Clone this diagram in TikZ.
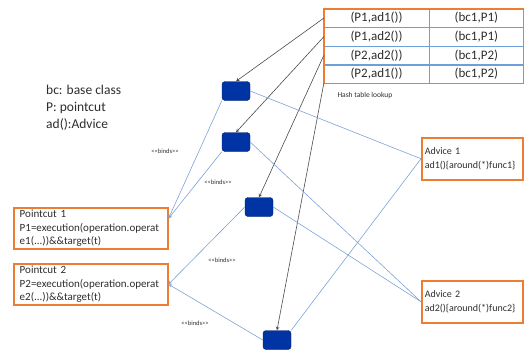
\documentclass[tikz,border=0pt]{standalone}
\usepackage{fontspec}
\setmainfont{Carlito}
\usetikzlibrary{arrows,positioning,calc}

\definecolor{boxorange}{RGB}{237,125,49}
\definecolor{joinfill}{RGB}{0,52,165}
\definecolor{joinedge}{RGB}{0,30,100}
\definecolor{bindline}{RGB}{125,162,215}
\definecolor{celline}{RGB}{110,160,215}
\definecolor{lookline}{RGB}{75,75,75}
\definecolor{textgray}{RGB}{45,45,45}

\begin{document}
\begin{tikzpicture}[x=1pt,y=-1pt]
        \tikzset{
            joinbox/.style={draw=joinedge, fill=joinfill, rounded corners=3pt,
                minimum width=28pt, minimum height=19pt, inner sep=0pt},
            keycell/.style={draw=celline, minimum width=105pt, minimum height=18.25pt,
                inner sep=0pt, text=textgray, font=\fontsize{13}{15}\selectfont},
            valcell/.style={keycell, minimum width=94pt},
            pointbox/.style={draw=boxorange, line width=1.5pt, anchor=north west, align=left,
                text width=142pt, inner xsep=6pt, inner ysep=2pt, minimum height=41pt,
                text=textgray, font=\fontsize{11}{13.5}\selectfont},
            advbox/.style={pointbox, text width=95pt, inner xsep=3pt, minimum height=42pt,
                font=\fontsize{10}{14}\selectfont},
            binds/.style={text=textgray, font=\fontsize{6.5}{8}\selectfont},
            lookup/.style={-stealth, draw=lookline, line width=0.6pt},
            bind/.style={draw=bindline, line width=0.6pt}
        }
        \useasboundingbox (0,0) rectangle (524,349);
        % hash table
        \node[keycell] (k1) at (376.5,18.1) {(P1,ad1())};
        \node[keycell, below=0pt of k1] (k2) {(P1,ad2())};
        \node[keycell, below=0pt of k2] (k3) {(P2,ad2())};
        \node[keycell, below=0pt of k3] (k4) {(P2,ad1())};
        \node[valcell, right=0pt of k1] (v1) {(bc1,P1)};
        \node[valcell, right=0pt of k2] (v2) {(bc1,P1)};
        \node[valcell, right=0pt of k3] (v3) {(bc1,P2)};
        \node[valcell, right=0pt of k4] (v4) {(bc1,P2)};
        \draw[boxorange, line width=1.5pt] (k1.north west) rectangle (v4.south east);
        \node[anchor=west, text=textgray, font=\fontsize{7.5}{9}\selectfont] (hash) at (334,95) {Hash table lookup};
        % legend
        \node[anchor=north west, align=left, inner sep=0pt, text=textgray,
              font=\fontsize{13.5}{17}\selectfont] (legend) at (46,85) {bc: base class\\P: pointcut\\ad():Advice};
        % join points
        \node[joinbox] (j1) at (236,91) {};
        \node[joinbox] (j2) at (236,142) {};
        \node[joinbox] (j3) at (259,207) {};
        \node[joinbox] (j4) at (277,340) {};
        % pointcuts and advices
        \node[pointbox] (pc1) at (13,207) {Pointcut 1\\P1=execution(operation.operat\\e1(...))\&\&target(t)};
        \node[pointbox] (pc2) at (13,263) {Pointcut 2\\P2=execution(operation.operat\\e2(...))\&\&target(t)};
        \node[advbox] (ad1) at (421,137) {Advice 1\\ad1()\{around(*)func1\}};
        \node[advbox] (ad2) at (421,280) {Advice 2\\ad2()\{around(*)func2\}};
        \coordinate (pc1in) at ($(pc1.north east)!0.27!(pc1.south east)$);
        % binds labels
        \node[binds] (b1) at (165,151) {<{}<binds>{}>};
        \node[binds] (b2) at (218,182) {<{}<binds>{}>};
        \node[binds] (b3) at (222,260) {<{}<binds>{}>};
        \node[binds] (b4) at (195,323) {<{}<binds>{}>};
        % lookups
        \draw[lookup] (k1.west) -- (j1.north);
        \draw[lookup] (k2.west) -- (j2.north);
        \draw[lookup] (k3.west) -- (j3.north);
        \draw[lookup] (k4.south west) -- (j4.north);
        % bindings
        \draw[bind, -stealth] (j1.south west) -- (pc1in);
        \draw[bind, -stealth] (j2.south west) -- (pc1in);
        \draw[bind, -stealth] (j3.west) -- (pc2.east);
        \draw[bind, -stealth] (j4.west) -- (pc2.east);
        \draw[bind] (j1.east) -- (ad1.west);
        \draw[bind] (j4.north east) -- (ad1.west);
        \draw[bind] (j2.east) -- (ad2.west);
        \draw[bind] (j3.east) -- (ad2.west);
\end{tikzpicture}
\end{document}
